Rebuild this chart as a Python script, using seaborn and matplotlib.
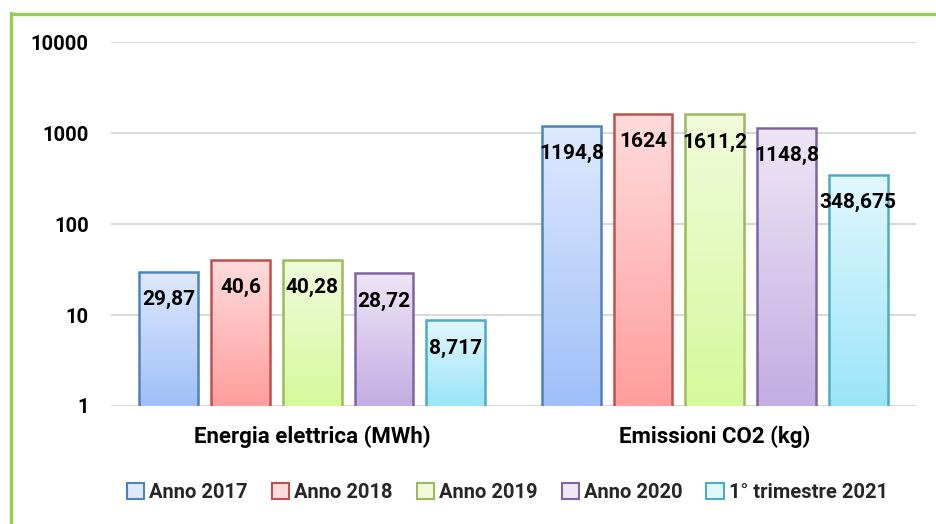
import matplotlib
matplotlib.use("Agg")
import matplotlib.pyplot as plt
from matplotlib.colors import LinearSegmentedColormap
from matplotlib.lines import Line2D
from matplotlib.patches import Patch
from matplotlib.ticker import NullLocator
import seaborn as sns
import pandas as pd
import numpy as np

# --- data ---
categories = ["Energia elettrica (MWh)", "Emissioni CO2 (kg)"]
series = ["Anno 2017", "Anno 2018", "Anno 2019", "Anno 2020", "1° trimestre 2021"]
energia = [29.87, 40.6, 40.28, 28.72, 8.717]
emissioni = [1194.8, 1624, 1611.2, 1148.8, 348.675]
yticks = [1, 10, 100, 1000, 10000]

# excel-ish gradient colours (bottom -> top) and outlines
edge_colors = ["#4f81bd", "#c0504d", "#9bbb59", "#8064a2", "#4bacc6"]
top_colors = ["#dee9fd", "#ffdcdc", "#f1fbdc", "#eee6f6", "#e2f7fd"]
bottom_colors = ["#a0bff8", "#ff9d9d", "#d5f99c", "#c3ade2", "#9be5f8"]

df = pd.DataFrame({
    "categoria": [c for c in categories for _ in series],
    "serie": series * 2,
    "valore": energia + emissioni,
})

sns.set_style("white")
plt.rcParams["font.family"] = ["Roboto", "DejaVu Sans"]
plt.rcParams["font.weight"] = "bold"

fig = plt.figure(figsize=(9.36, 5.24), dpi=100)
ax = fig.add_axes([0.1186, 0.2252, 0.86, 0.6946])
ax.set_yscale("log")

sns.barplot(data=df, x="categoria", y="valore", hue="serie",
            order=categories, hue_order=series,
            palette=dict(zip(series, bottom_colors)),
            width=0.891, gap=0.18, legend=False, errorbar=None, ax=ax)

ax.set_xlim(-0.5, 1.5)
ax.set_ylim(1, 10000)
ax.set_yticks(yticks)
ax.set_yticklabels([str(t) for t in yticks])
ax.yaxis.set_minor_locator(NullLocator())
ax.set_axisbelow(True)
ax.yaxis.grid(True, color="#d9d9d9", linewidth=1.5)
ax.tick_params(axis="y", length=0, pad=16, labelsize=14.5, labelcolor="black")
ax.tick_params(axis="x", length=0, pad=14, labelsize=16, labelcolor="black")
for t in ax.get_xticklabels() + ax.get_yticklabels():
    t.set_fontweight("bold")
ax.set_xlabel("")
ax.set_ylabel("")
sns.despine(ax=ax, left=True, bottom=True)

to_axes = ax.transData + ax.transAxes.inverted()
grad = np.linspace(0, 1, 256).reshape(-1, 1)

for i, cont in enumerate(ax.containers):
    cmap = LinearSegmentedColormap.from_list("g%d" % i, [bottom_colors[i], top_colors[i]])
    for bar in cont:
        x0 = bar.get_x()
        x1 = x0 + bar.get_width()
        top = bar.get_y() + bar.get_height()
        (ax0, ay0), (ax1, ay1) = to_axes.transform([(x0, 1), (x1, top)])
        bar.set_facecolor("none")
        bar.set_edgecolor(edge_colors[i])
        bar.set_linewidth(1.8)
        bar.set_zorder(2)
        im = ax.imshow(grad, cmap=cmap, origin="lower", aspect="auto",
                       extent=[ax0, ax1, ay0, ay1], transform=ax.transAxes,
                       zorder=1.5)
        im.set_clip_path(bar)
        lbl = f"{top:g}".replace(".", ",")
        ax.annotate(lbl, xy=((x0 + x1) / 2, top), xytext=(0, -20),
                    textcoords="offset points", ha="center", va="center",
                    fontsize=15, fontweight="bold", color="black", zorder=3)

# imshow messes with limits, put them back
ax.set_xlim(-0.5, 1.5)
ax.set_ylim(1, 10000)

handles = [Patch(facecolor=top_colors[i], edgecolor=edge_colors[i], linewidth=1.5)
           for i in range(len(series))]
fig.legend(handles, series, loc="center", bbox_to_anchor=(0.542, 0.061), ncol=5,
           frameon=False, handlelength=0.85, handleheight=0.85, handletextpad=0.25,
           columnspacing=1.2, prop={"size": 14.5, "weight": "bold"})

# green frame on top and left
green = "#92d050"
fig.add_artist(Line2D([0.0115, 1.0], [0.974, 0.974], color=green, linewidth=2.4,
                      transform=fig.transFigure))
fig.add_artist(Line2D([0.0118, 0.0118], [0.0, 0.975], color=green, linewidth=2.4,
                      transform=fig.transFigure))

fig.savefig("out.png", dpi=100)
